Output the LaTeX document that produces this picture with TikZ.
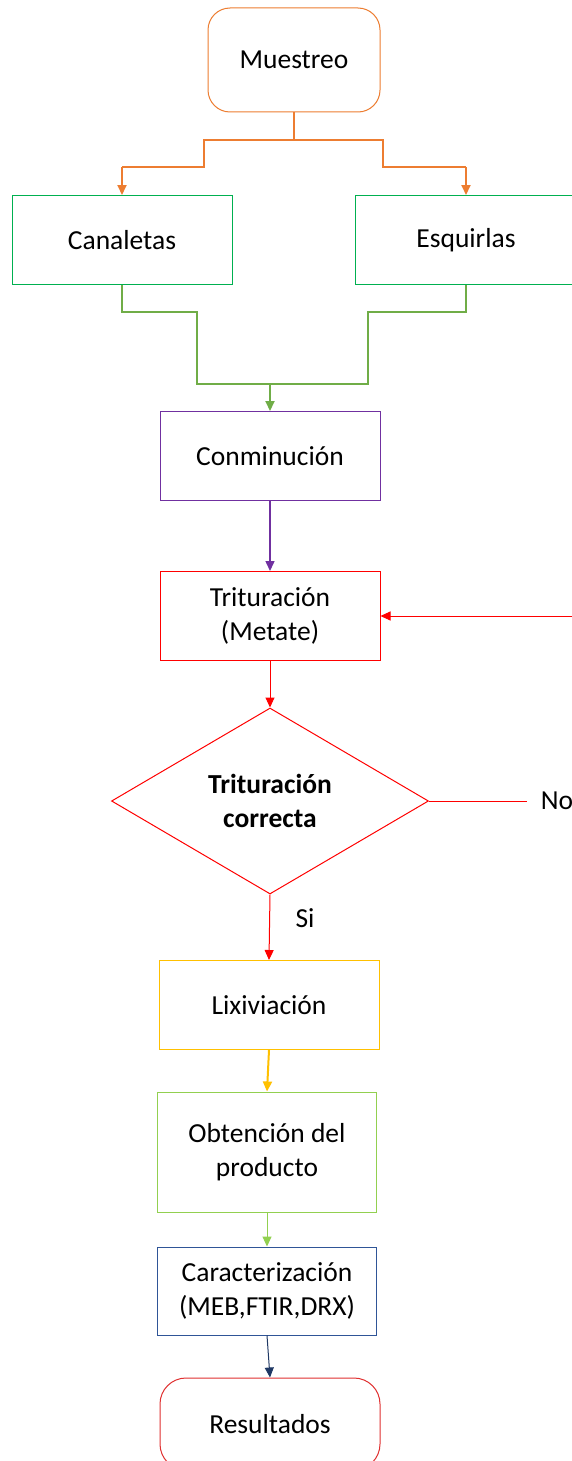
\documentclass[tikz,border=0pt]{standalone}
\usepackage{fontspec}
\setmainfont{Carlito}
\usetikzlibrary{arrows.meta,shapes.geometric}

\definecolor{naranja}{HTML}{ED7D31}
\definecolor{verde}{HTML}{00B050}
\definecolor{verdeoliva}{HTML}{70AD47}
\definecolor{morado}{HTML}{7030A0}
\definecolor{rojo}{HTML}{FF0000}
\definecolor{amarillo}{HTML}{FFC000}
\definecolor{verdeclaro}{HTML}{92D050}
\definecolor{azul}{HTML}{2F5597}
\definecolor{marino}{HTML}{1F3864}
\definecolor{granate}{HTML}{E03030}

\tikzset{
  caja/.style={draw, rectangle, line width=1pt, minimum width=220pt, minimum height=89pt,
    inner sep=0pt, align=center},
  terminal/.style={caja, rounded corners=22pt},
  flecha/.style={-{Triangle[length=10pt,width=9pt]}, line width=1pt},
}

\begin{document}
\begin{tikzpicture}[x=1pt, y=-1pt, font=\fontsize{27.5}{34}\selectfont]

%% marco de la figura (571 x 1461)
\useasboundingbox[fill=white] (0,0) rectangle (571,1461);

%% cajas del diagrama
\node[terminal, draw=naranja, minimum width=172pt, minimum height=104pt] (muestreo) at (294,60) {Muestreo};
\node[caja, draw=verde] (canaletas) at (122,240) {Canaletas};
\node[caja, draw=verde, minimum width=222pt] (esquirlas) at (466,240) {Esquirlas};
\node[caja, draw=morado] (conminucion) at (270,456) {Conminución};
\node[caja, draw=rojo] (trituracion) at (270,616) {Trituración\\(Metate)};
\node[diamond, draw=rojo, line width=1pt, aspect=1.7, minimum width=317pt, minimum height=186pt,
  inner sep=0pt, align=center, font=\fontsize{27.5}{34}\selectfont\bfseries] (decision) at (270,801) {Trituración\\correcta};
\node[caja, draw=amarillo] (lixiviacion) at (269,1005) {Lixiviación};
\node[caja, draw=verdeclaro, minimum width=219pt, minimum height=120pt] (obtencion) at (267,1152) {Obtención del\\producto};
\node[caja, draw=azul, minimum width=219pt, minimum height=88pt] (caracterizacion) at (267,1291) {Caracterización\\(MEB,FTIR,DRX)};
\node[terminal, draw=granate, minimum height=92pt, rounded corners=26pt] (resultados) at (270,1424) {Resultados};

%% textos de la decision
\node (no) at (557,801) {No};
\node (si) at (305,918) {Si};

%% muestreo -> canaletas / esquirlas
\draw[naranja, line width=2pt] (muestreo.south) -- (294,140) -- (204,140) -- (204,167) -- (122,167);
\draw[naranja, line width=2pt] (294,140) -- (383,140) -- (383,167) -- (466,167);
\draw[flecha, naranja, line width=2pt] (122,167) -- (canaletas.north);
\draw[flecha, naranja, line width=2pt] (466,167) -- (esquirlas.north);

%% canaletas / esquirlas -> conminucion
\draw[verdeoliva, line width=2pt] (canaletas.south) -- (122,312) -- (197,312) -- (197,384) -- (368,384)
  -- (368,312) -- (466,312) -- (esquirlas.south);
\draw[flecha, verdeoliva, line width=2pt] (270,384) -- (conminucion.north);

%% resto del flujo
\draw[flecha, morado, line width=1.5pt] (conminucion) -- (trituracion);
\draw[flecha, rojo] (trituracion) -- (decision.north);
\draw[flecha, rojo] (decision.south) -- (lixiviacion.north);
\draw[flecha, amarillo, line width=2pt] (lixiviacion.south) -- (obtencion.north);
\draw[flecha, verdeclaro] (obtencion) -- (caracterizacion);
\draw[flecha, marino] (caracterizacion.south) -- (resultados.north);

%% regreso (No)
\coordinate (retorno) at (575,616);
\coordinate (finno) at (527,801);
\draw[flecha, rojo] (retorno) -- (trituracion.east);
\draw[rojo, line width=1pt] (decision.east) -- (finno);

\end{tikzpicture}
\end{document}
